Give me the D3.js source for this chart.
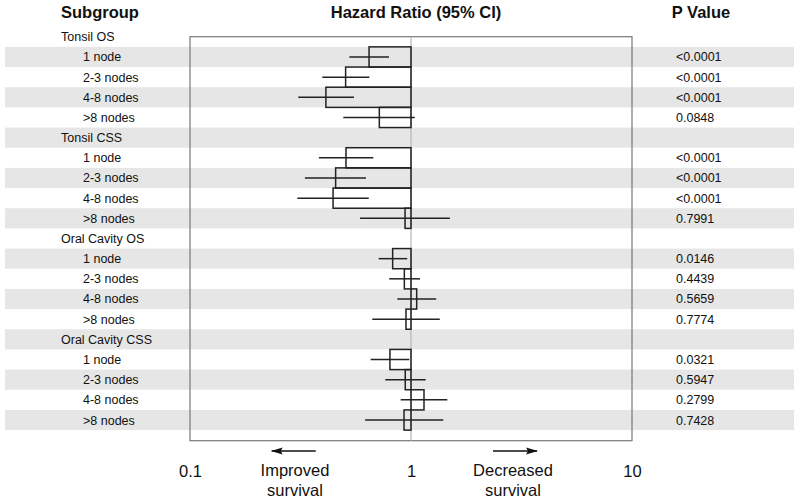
<!DOCTYPE html>
<html><head><meta charset="utf-8">
<script src="https://cdn.jsdelivr.net/npm/d3@7"></script>
<style>body{margin:0;background:#fff}svg{display:block;font-family:"Liberation Sans",Arial,sans-serif}</style>
</head><body><svg id="c" width="800" height="502"></svg>
<script>
const labels = ["Tonsil OS","1 node","2-3 nodes","4-8 nodes",">8 nodes",
  "Tonsil CSS","1 node","2-3 nodes","4-8 nodes",">8 nodes",
  "Oral Cavity OS","1 node","2-3 nodes","4-8 nodes",">8 nodes",
  "Oral Cavity CSS","1 node","2-3 nodes","4-8 nodes",">8 nodes"];
const isHeader = [1,0,0,0,0, 1,0,0,0,0, 1,0,0,0,0, 1,0,0,0,0];
const hr    = [null,0.646,0.506,0.412,0.719, null,0.508,0.456,0.444,0.94, null,0.826,0.933,1.061,0.949, null,0.803,0.942,1.145,0.93];
const lower = [null,0.526,0.397,0.309,0.494, null,0.383,0.331,0.306,0.588, null,0.714,0.797,0.867,0.668, null,0.657,0.765,0.898,0.62];
const upper = [null,0.795,0.648,0.552,1.04,  null,0.675,0.626,0.644,1.50,  null,0.962,1.098,1.30,1.35,   null,0.983,1.165,1.46,1.40];
const pvals = ["","<0.0001","<0.0001","<0.0001","0.0848", "","<0.0001","<0.0001","<0.0001","0.7991",
  "","0.0146","0.4439","0.5659","0.7774", "","0.0321","0.5947","0.2799","0.7428"];
const tickVals = [0.1, 1, 10];
const tickLabels = ["0.1","1","10"];

const svg = d3.select("#c");
const x = d3.scaleLog().domain([0.1, 10]).range([190, 632]);
const y = d3.scaleBand().domain(d3.range(labels.length)).range([26.7, 430.1]).padding(0);
const rows = labels.map((l,i)=>({i, label:l, header:isHeader[i], hr:hr[i], lo:lower[i], hi:upper[i], p:pvals[i]}));

// bands
svg.append("g").selectAll("rect").data(rows.filter(d=>d.i%2===1)).join("rect")
  .attr("x",5).attr("width",789).attr("y",d=>y(d.i)).attr("height",y.bandwidth())
  .attr("fill","#e6e6e6");

// headers
svg.append("text").attr("x",61).attr("y",18).attr("font-size",16.5).attr("font-weight","bold").attr("fill","#111").text("Subgroup");
svg.append("text").attr("x",416).attr("y",18).attr("text-anchor","middle").attr("font-size",16.5).attr("font-weight","bold").attr("fill","#111").text("Hazard Ratio (95% CI)");
svg.append("text").attr("x",701).attr("y",18).attr("text-anchor","middle").attr("font-size",16.5).attr("font-weight","bold").attr("fill","#111").text("P Value");

// row labels
svg.append("g").selectAll("text").data(rows).join("text")
  .attr("x",d=>d.header?61:83).attr("y",d=>y(d.i)+y.bandwidth()/2).attr("dy","0.36em")
  .attr("font-size",12.5).attr("fill","#111").text(d=>d.label);

// p values
svg.append("g").selectAll("text").data(rows.filter(d=>d.p)).join("text")
  .attr("x",676).attr("y",d=>y(d.i)+y.bandwidth()/2).attr("dy","0.36em")
  .attr("font-size",12.5).attr("fill","#111").text(d=>d.p);

// plot box
const boxTop = 36.7, boxBottom = 440.7;
svg.append("rect").attr("x",x(0.1)).attr("y",boxTop).attr("width",x(10)-x(0.1)).attr("height",boxBottom-boxTop)
  .attr("fill","none").attr("stroke","#777").attr("stroke-width",1.2);
svg.append("line").attr("x1",x(1)).attr("x2",x(1)).attr("y1",boxTop).attr("y2",boxBottom)
  .attr("stroke","#b5b5b5").attr("stroke-width",1.2);

const data = rows.filter(d=>d.hr!=null);
// bars from 1 to HR
svg.append("g").selectAll("rect").data(data).join("rect")
  .attr("x",d=>Math.min(x(d.hr),x(1))).attr("width",d=>Math.abs(x(d.hr)-x(1)))
  .attr("y",d=>y(d.i)).attr("height",y.bandwidth())
  .attr("fill","none").attr("stroke","#222").attr("stroke-width",1.5);
// CI lines
svg.append("g").selectAll("line").data(data).join("line")
  .attr("x1",d=>x(d.lo)).attr("x2",d=>x(d.hi))
  .attr("y1",d=>y(d.i)+y.bandwidth()/2).attr("y2",d=>y(d.i)+y.bandwidth()/2)
  .attr("stroke","#222").attr("stroke-width",1.5);

// axis tick labels
const axis = d3.axisBottom(x).tickValues(tickVals).tickFormat((d,i)=>tickLabels[i]).tickSize(0).tickPadding(0);
const ag = svg.append("g").attr("transform","translate(0,465)").call(axis);
ag.select(".domain").remove();
ag.selectAll("text").attr("font-size",16.5).attr("fill","#111").attr("font-family","Liberation Sans, Arial, sans-serif");

// direction annotations
const defs = svg.append("defs");
defs.append("marker").attr("id","ah").attr("viewBox","0 0 12 8").attr("refX",11).attr("refY",4)
  .attr("markerWidth",12).attr("markerHeight",8).attr("markerUnits","userSpaceOnUse").attr("orient","auto")
  .append("path").attr("d","M0,0.5 L12,4 L0,7.5 L2,4 Z").attr("fill","#111");
svg.append("line").attr("x1",315.7).attr("x2",271.7).attr("y1",451).attr("y2",451)
  .attr("stroke","#111").attr("stroke-width",1.6).attr("marker-end","url(#ah)");
svg.append("line").attr("x1",493).attr("x2",537).attr("y1",451).attr("y2",451)
  .attr("stroke","#111").attr("stroke-width",1.6).attr("marker-end","url(#ah)");
const ann = [{x:295,t:["Improved","survival"]},{x:513,t:["Decreased","survival"]}];
ann.forEach(a=>{
  a.t.forEach((s,k)=>svg.append("text").attr("x",a.x).attr("y",476+k*20).attr("text-anchor","middle")
    .attr("font-size",16.5).attr("fill","#111").text(s));
});
</script></body></html>
